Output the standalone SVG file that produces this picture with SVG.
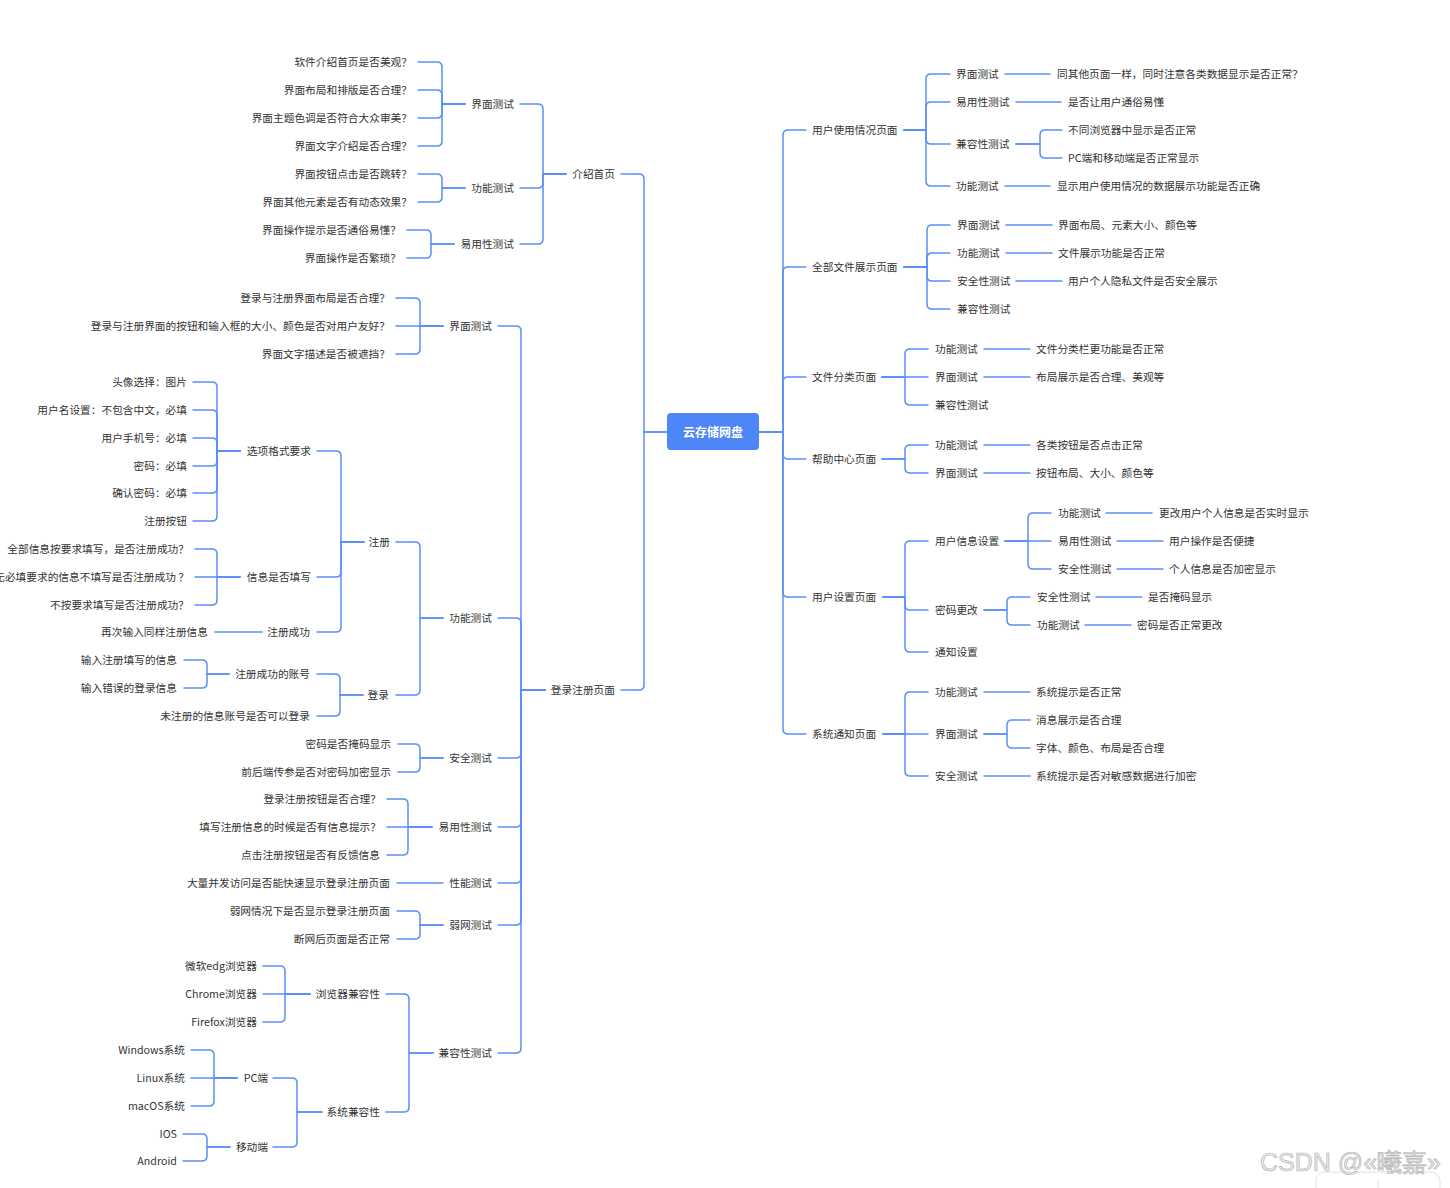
<svg xmlns="http://www.w3.org/2000/svg" width="1450" height="1188" viewBox="0 0 1450 1188">
<style>
text{font-family:"Noto Sans CJK SC","Noto Sans",sans-serif;font-size:10.7px;fill:#333;dominant-baseline:central}
.l{text-anchor:end}
.r{text-anchor:start}
.root text{fill:#fff;font-size:12px;font-weight:bold;text-anchor:middle}
#connectors path{fill:none;stroke:#5b8ef7;stroke-width:1.5;stroke-linecap:round;stroke-linejoin:round}
.wm{font-family:"Liberation Sans",Arial,sans-serif;font-size:25px;fill:#ececec;stroke:#b4b4b4;stroke-width:0.7;dominant-baseline:alphabetic}
</style>
<rect width="1450" height="1188" fill="#fff"/>
<g id="connectors">
<path d="M667 432 H644 V179 Q644 174 639 174 H621"/>
<path d="M667 432 H644 V685 Q644 690 639 690 H621"/>
<path d="M566 174 H543 V109 Q543 104 538 104 H520"/>
<path d="M566 174 H543 V183 Q543 188 538 188 H520"/>
<path d="M566 174 H543 V239 Q543 244 538 244 H520"/>
<path d="M465 104 H442 V67 Q442 62 437 62 H418"/>
<path d="M465 104 H442 V95 Q442 90 437 90 H418"/>
<path d="M465 104 H442 V113 Q442 118 437 118 H418"/>
<path d="M465 104 H442 V141 Q442 146 437 146 H418"/>
<path d="M465 188 H442 V179 Q442 174 437 174 H418"/>
<path d="M465 188 H442 V197 Q442 202 437 202 H418"/>
<path d="M454 244 H431 V235 Q431 230 426 230 H407"/>
<path d="M454 244 H431 V253 Q431 258 426 258 H407"/>
<path d="M545 690 H521 V331 Q521 326 516 326 H498"/>
<path d="M545 690 H521 V623 Q521 618 516 618 H498"/>
<path d="M545 690 H521 V753 Q521 758 516 758 H498"/>
<path d="M545 690 H521 V822 Q521 827 516 827 H498"/>
<path d="M545 690 H521 V878 Q521 883 516 883 H498"/>
<path d="M545 690 H521 V920 Q521 925 516 925 H498"/>
<path d="M545 690 H521 V1048 Q521 1053 516 1053 H498"/>
<path d="M443 326 H420 V303 Q420 298 415 298 H396"/>
<path d="M443 326 H396"/>
<path d="M443 326 H420 V349 Q420 354 415 354 H396"/>
<path d="M443 618 H420 V547 Q420 542 415 542 H396"/>
<path d="M443 618 H420 V690 Q420 695 415 695 H396"/>
<path d="M364 542 H341 V456 Q341 451 336 451 H317"/>
<path d="M364 542 H341 V572 Q341 577 336 577 H317"/>
<path d="M364 542 H341 V627 Q341 632 336 632 H317"/>
<path d="M240 451 H217 V387 Q217 382 212 382 H193"/>
<path d="M240 451 H217 V415 Q217 410 212 410 H193"/>
<path d="M240 451 H217 V443 Q217 438 212 438 H193"/>
<path d="M240 451 H217 V461 Q217 466 212 466 H193"/>
<path d="M240 451 H217 V488 Q217 493 212 493 H193"/>
<path d="M240 451 H217 V516 Q217 521 212 521 H193"/>
<path d="M240 577 H217 V554 Q217 549 212 549 H195"/>
<path d="M240 577 H195"/>
<path d="M240 577 H217 V600 Q217 605 212 605 H195"/>
<path d="M262 632 H215"/>
<path d="M363 695 H340 V679 Q340 674 335 674 H317"/>
<path d="M363 695 H340 V711 Q340 716 335 716 H317"/>
<path d="M229 674 H207 V665 Q207 660 202 660 H184"/>
<path d="M229 674 H207 V683 Q207 688 202 688 H184"/>
<path d="M443 758 H420 V749 Q420 744 415 744 H398"/>
<path d="M443 758 H420 V767 Q420 772 415 772 H398"/>
<path d="M432 827 H408 V804 Q408 799 403 799 H387"/>
<path d="M432 827 H387"/>
<path d="M432 827 H408 V850 Q408 855 403 855 H387"/>
<path d="M443 883 H397"/>
<path d="M443 925 H420 V916 Q420 911 415 911 H397"/>
<path d="M443 925 H420 V934 Q420 939 415 939 H397"/>
<path d="M433 1053 H409 V999 Q409 994 404 994 H386"/>
<path d="M433 1053 H409 V1107 Q409 1112 404 1112 H386"/>
<path d="M310 994 H285 V971 Q285 966 280 966 H263"/>
<path d="M310 994 H263"/>
<path d="M310 994 H285 V1017 Q285 1022 280 1022 H263"/>
<path d="M322 1112 H297 V1083 Q297 1078 292 1078 H273"/>
<path d="M322 1112 H297 V1142 Q297 1147 292 1147 H273"/>
<path d="M237 1078 H214 V1055 Q214 1050 209 1050 H191"/>
<path d="M237 1078 H191"/>
<path d="M237 1078 H214 V1101 Q214 1106 209 1106 H191"/>
<path d="M230 1147 H207 V1139 Q207 1134 202 1134 H183"/>
<path d="M230 1147 H207 V1156 Q207 1161 202 1161 H183"/>
<path d="M759 432 H783 V135 Q783 130 788 130 H806"/>
<path d="M759 432 H783 V272 Q783 267 788 267 H806"/>
<path d="M759 432 H783 V382 Q783 377 788 377 H806"/>
<path d="M759 432 H783 V454 Q783 459 788 459 H806"/>
<path d="M759 432 H783 V592 Q783 597 788 597 H806"/>
<path d="M759 432 H783 V729 Q783 734 788 734 H806"/>
<path d="M904 130 H926 V79 Q926 74 931 74 H950"/>
<path d="M904 130 H926 V107 Q926 102 931 102 H950"/>
<path d="M904 130 H926 V139 Q926 144 931 144 H950"/>
<path d="M904 130 H926 V181 Q926 186 931 186 H950"/>
<path d="M1005 74 H1050"/>
<path d="M1016 102 H1061"/>
<path d="M1016 144 H1040 V135 Q1040 130 1045 130 H1062"/>
<path d="M1016 144 H1040 V153 Q1040 158 1045 158 H1062"/>
<path d="M1005 186 H1050"/>
<path d="M904 267 H927 V230 Q927 225 932 225 H950"/>
<path d="M904 267 H927 V258 Q927 253 932 253 H950"/>
<path d="M904 267 H927 V276 Q927 281 932 281 H950"/>
<path d="M904 267 H927 V304 Q927 309 932 309 H950"/>
<path d="M1006 225 H1052"/>
<path d="M1006 253 H1052"/>
<path d="M1016 281 H1062"/>
<path d="M882 377 H905 V354 Q905 349 910 349 H928"/>
<path d="M882 377 H928"/>
<path d="M882 377 H905 V400 Q905 405 910 405 H928"/>
<path d="M984 349 H1030"/>
<path d="M984 377 H1030"/>
<path d="M882 459 H905 V450 Q905 445 910 445 H928"/>
<path d="M882 459 H905 V468 Q905 473 910 473 H928"/>
<path d="M984 445 H1030"/>
<path d="M984 473 H1030"/>
<path d="M883 597 H905 V546 Q905 541 910 541 H928"/>
<path d="M883 597 H905 V605 Q905 610 910 610 H928"/>
<path d="M883 597 H905 V647 Q905 652 910 652 H928"/>
<path d="M1005 541 H1028 V518 Q1028 513 1033 513 H1051"/>
<path d="M1005 541 H1051"/>
<path d="M1005 541 H1028 V564 Q1028 569 1033 569 H1051"/>
<path d="M1106 513 H1152"/>
<path d="M1117 541 H1163"/>
<path d="M1117 569 H1163"/>
<path d="M984 610 H1007 V602 Q1007 597 1012 597 H1030"/>
<path d="M984 610 H1007 V620 Q1007 625 1012 625 H1030"/>
<path d="M1096 597 H1142"/>
<path d="M1085 625 H1131"/>
<path d="M883 734 H905 V697 Q905 692 910 692 H928"/>
<path d="M883 734 H928"/>
<path d="M883 734 H905 V771 Q905 776 910 776 H928"/>
<path d="M984 692 H1030"/>
<path d="M984 734 H1007 V725 Q1007 720 1012 720 H1030"/>
<path d="M984 734 H1007 V743 Q1007 748 1012 748 H1030"/>
<path d="M984 776 H1030"/>
</g>
<g id="root" class="root"><rect x="667" y="413" width="92" height="37" rx="4" fill="#4f86f7"/><text x="713" y="431.5">云存储网盘</text></g>
<g id="left-nodes" transform="translate(0,-0.8)">
<g id="n-intro"><text class="l" x="615" y="174">介绍首页</text></g>
<g id="n-intro-ui"><text class="l" x="514" y="104">界面测试</text></g>
<g id="n-intro-fn"><text class="l" x="514" y="188">功能测试</text></g>
<g id="n-intro-use"><text class="l" x="514" y="244">易用性测试</text></g>
<g id="n-i1"><text class="l" x="412" y="62">软件介绍首页是否美观？</text></g>
<g id="n-i2"><text class="l" x="412" y="90">界面布局和排版是否合理？</text></g>
<g id="n-i3"><text class="l" x="412" y="118">界面主题色调是否符合大众审美？</text></g>
<g id="n-i4"><text class="l" x="412" y="146">界面文字介绍是否合理？</text></g>
<g id="n-i5"><text class="l" x="412" y="174">界面按钮点击是否跳转？</text></g>
<g id="n-i6"><text class="l" x="412" y="202">界面其他元素是否有动态效果？</text></g>
<g id="n-i7"><text class="l" x="401" y="230">界面操作提示是否通俗易懂？</text></g>
<g id="n-i8"><text class="l" x="401" y="258">界面操作是否繁琐？</text></g>
<g id="n-login"><text class="l" x="615" y="690">登录注册页面</text></g>
<g id="n-l-ui"><text class="l" x="492" y="326">界面测试</text></g>
<g id="n-l-ui1"><text class="l" x="390" y="298">登录与注册界面布局是否合理？</text></g>
<g id="n-l-ui2"><text class="l" x="390" y="326">登录与注册界面的按钮和输入框的大小、颜色是否对用户友好？</text></g>
<g id="n-l-ui3"><text class="l" x="390" y="354">界面文字描述是否被遮挡？</text></g>
<g id="n-l-fn"><text class="l" x="492" y="618">功能测试</text></g>
<g id="n-reg"><text class="l" x="390" y="542">注册</text></g>
<g id="n-fmt"><text class="l" x="311" y="451">选项格式要求</text></g>
<g id="n-f1"><text class="l" x="187" y="382">头像选择：图片</text></g>
<g id="n-f2"><text class="l" x="187" y="410">用户名设置：不包含中文，必填</text></g>
<g id="n-f3"><text class="l" x="187" y="438">用户手机号：必填</text></g>
<g id="n-f4"><text class="l" x="187" y="466">密码：必填</text></g>
<g id="n-f5"><text class="l" x="187" y="493">确认密码：必填</text></g>
<g id="n-f6"><text class="l" x="187" y="521">注册按钮</text></g>
<g id="n-fill"><text class="l" x="311" y="577">信息是否填写</text></g>
<g id="n-fill1"><text class="l" x="189" y="549">全部信息按要求填写，是否注册成功？</text></g>
<g id="n-fill2"><text class="l" x="189" y="577">无必填要求的信息不填写是否注册成功 ？</text></g>
<g id="n-fill3"><text class="l" x="189" y="605">不按要求填写是否注册成功？</text></g>
<g id="n-regok"><text class="l" x="310" y="632">注册成功</text></g>
<g id="n-regok1"><text class="l" x="208" y="632">再次输入同样注册信息</text></g>
<g id="n-signin"><text class="l" x="389" y="695">登录</text></g>
<g id="n-acct"><text class="l" x="310" y="674">注册成功的账号</text></g>
<g id="n-acct1"><text class="l" x="177" y="660">输入注册填写的信息</text></g>
<g id="n-acct2"><text class="l" x="177" y="688">输入错误的登录信息</text></g>
<g id="n-unreg"><text class="l" x="310" y="716">未注册的信息账号是否可以登录</text></g>
<g id="n-l-sec"><text class="l" x="492" y="758">安全测试</text></g>
<g id="n-sec1"><text class="l" x="391" y="744">密码是否掩码显示</text></g>
<g id="n-sec2"><text class="l" x="391" y="772">前后端传参是否对密码加密显示</text></g>
<g id="n-l-use"><text class="l" x="492" y="827">易用性测试</text></g>
<g id="n-use1"><text class="l" x="381" y="799">登录注册按钮是否合理？</text></g>
<g id="n-use2"><text class="l" x="381" y="827">填写注册信息的时候是否有信息提示？</text></g>
<g id="n-use3"><text class="l" x="380" y="855">点击注册按钮是否有反馈信息</text></g>
<g id="n-l-perf"><text class="l" x="492" y="883">性能测试</text></g>
<g id="n-perf1"><text class="l" x="390" y="883">大量并发访问是否能快速显示登录注册页面</text></g>
<g id="n-l-weak"><text class="l" x="492" y="925">弱网测试</text></g>
<g id="n-weak1"><text class="l" x="390" y="911">弱网情况下是否显示登录注册页面</text></g>
<g id="n-weak2"><text class="l" x="390" y="939">断网后页面是否正常</text></g>
<g id="n-l-compat"><text class="l" x="492" y="1053">兼容性测试</text></g>
<g id="n-browser"><text class="l" x="380" y="994">浏览器兼容性</text></g>
<g id="n-b1"><text class="l" x="257" y="966">微软edg浏览器</text></g>
<g id="n-b2"><text class="l" x="257" y="994">Chrome浏览器</text></g>
<g id="n-b3"><text class="l" x="257" y="1022">Firefox浏览器</text></g>
<g id="n-sys"><text class="l" x="380" y="1112">系统兼容性</text></g>
<g id="n-pc"><text class="l" x="268" y="1078">PC端</text></g>
<g id="n-pc1"><text class="l" x="185" y="1050">Windows系统</text></g>
<g id="n-pc2"><text class="l" x="185" y="1078">Linux系统</text></g>
<g id="n-pc3"><text class="l" x="185" y="1106">macOS系统</text></g>
<g id="n-mob"><text class="l" x="268" y="1147">移动端</text></g>
<g id="n-mob1"><text class="l" x="177" y="1134">IOS</text></g>
<g id="n-mob2"><text class="l" x="177" y="1161">Android</text></g>
</g>
<g id="right-nodes" transform="translate(0,-0.8)">
<g id="n-usage"><text class="r" x="812" y="130">用户使用情况页面</text></g>
<g id="n-u-ui"><text class="r" x="956" y="74">界面测试</text></g>
<g id="n-u-ui1"><text class="r" x="1057" y="74">同其他页面一样，同时注意各类数据显示是否正常？</text></g>
<g id="n-u-use"><text class="r" x="956" y="102">易用性测试</text></g>
<g id="n-u-use1"><text class="r" x="1068" y="102">是否让用户通俗易懂</text></g>
<g id="n-u-comp"><text class="r" x="956" y="144">兼容性测试</text></g>
<g id="n-u-comp1"><text class="r" x="1068" y="130">不同浏览器中显示是否正常</text></g>
<g id="n-u-comp2"><text class="r" x="1068" y="158">PC端和移动端是否正常显示</text></g>
<g id="n-u-fn"><text class="r" x="956" y="186">功能测试</text></g>
<g id="n-u-fn1"><text class="r" x="1057" y="186">显示用户使用情况的数据展示功能是否正确</text></g>
<g id="n-files"><text class="r" x="812" y="267">全部文件展示页面</text></g>
<g id="n-a-ui"><text class="r" x="957" y="225">界面测试</text></g>
<g id="n-a-ui1"><text class="r" x="1058" y="225">界面布局、元素大小、颜色等</text></g>
<g id="n-a-fn"><text class="r" x="957" y="253">功能测试</text></g>
<g id="n-a-fn1"><text class="r" x="1058" y="253">文件展示功能是否正常</text></g>
<g id="n-a-sec"><text class="r" x="957" y="281">安全性测试</text></g>
<g id="n-a-sec1"><text class="r" x="1068" y="281">用户个人隐私文件是否安全展示</text></g>
<g id="n-a-comp"><text class="r" x="957" y="309">兼容性测试</text></g>
<g id="n-cat"><text class="r" x="812" y="377">文件分类页面</text></g>
<g id="n-c-fn"><text class="r" x="935" y="349">功能测试</text></g>
<g id="n-c-fn1"><text class="r" x="1036" y="349">文件分类栏更功能是否正常</text></g>
<g id="n-c-ui"><text class="r" x="935" y="377">界面测试</text></g>
<g id="n-c-ui1"><text class="r" x="1036" y="377">布局展示是否合理、美观等</text></g>
<g id="n-c-comp"><text class="r" x="935" y="405">兼容性测试</text></g>
<g id="n-help"><text class="r" x="812" y="459">帮助中心页面</text></g>
<g id="n-h-fn"><text class="r" x="935" y="445">功能测试</text></g>
<g id="n-h-fn1"><text class="r" x="1036" y="445">各类按钮是否点击正常</text></g>
<g id="n-h-ui"><text class="r" x="935" y="473">界面测试</text></g>
<g id="n-h-ui1"><text class="r" x="1036" y="473">按钮布局、大小、颜色等</text></g>
<g id="n-settings"><text class="r" x="812" y="597">用户设置页面</text></g>
<g id="n-s-info"><text class="r" x="935" y="541">用户信息设置</text></g>
<g id="n-s-i-fn"><text class="r" x="1058" y="513">功能测试</text></g>
<g id="n-s-i-fn1"><text class="r" x="1159" y="513">更改用户个人信息是否实时显示</text></g>
<g id="n-s-i-use"><text class="r" x="1058" y="541">易用性测试</text></g>
<g id="n-s-i-use1"><text class="r" x="1169" y="541">用户操作是否便捷</text></g>
<g id="n-s-i-sec"><text class="r" x="1058" y="569">安全性测试</text></g>
<g id="n-s-i-sec1"><text class="r" x="1169" y="569">个人信息是否加密显示</text></g>
<g id="n-s-pwd"><text class="r" x="935" y="610">密码更改</text></g>
<g id="n-s-p-sec"><text class="r" x="1037" y="597">安全性测试</text></g>
<g id="n-s-p-sec1"><text class="r" x="1148" y="597">是否掩码显示</text></g>
<g id="n-s-p-fn"><text class="r" x="1037" y="625">功能测试</text></g>
<g id="n-s-p-fn1"><text class="r" x="1137" y="625">密码是否正常更改</text></g>
<g id="n-s-notify"><text class="r" x="935" y="652">通知设置</text></g>
<g id="n-notice"><text class="r" x="812" y="734">系统通知页面</text></g>
<g id="n-n-fn"><text class="r" x="935" y="692">功能测试</text></g>
<g id="n-n-fn1"><text class="r" x="1036" y="692">系统提示是否正常</text></g>
<g id="n-n-ui"><text class="r" x="935" y="734">界面测试</text></g>
<g id="n-n-ui1"><text class="r" x="1036" y="720">消息展示是否合理</text></g>
<g id="n-n-ui2"><text class="r" x="1036" y="748">字体、颜色、布局是否合理</text></g>
<g id="n-n-sec"><text class="r" x="935" y="776">安全测试</text></g>
<g id="n-n-sec1"><text class="r" x="1036" y="776">系统提示是否对敏感数据进行加密</text></g>
</g>
<g id="watermark">
<rect x="1316" y="1172" width="124" height="40" rx="9" fill="#fff" stroke="#e2e2e2" stroke-width="1"/>
<line x1="1378" y1="1180" x2="1378" y2="1188" stroke="#e2e2e2" stroke-width="1"/>
<text class="wm" x="1260" y="1171">CSDN @«曦嘉»</text>
</g>
</svg>
